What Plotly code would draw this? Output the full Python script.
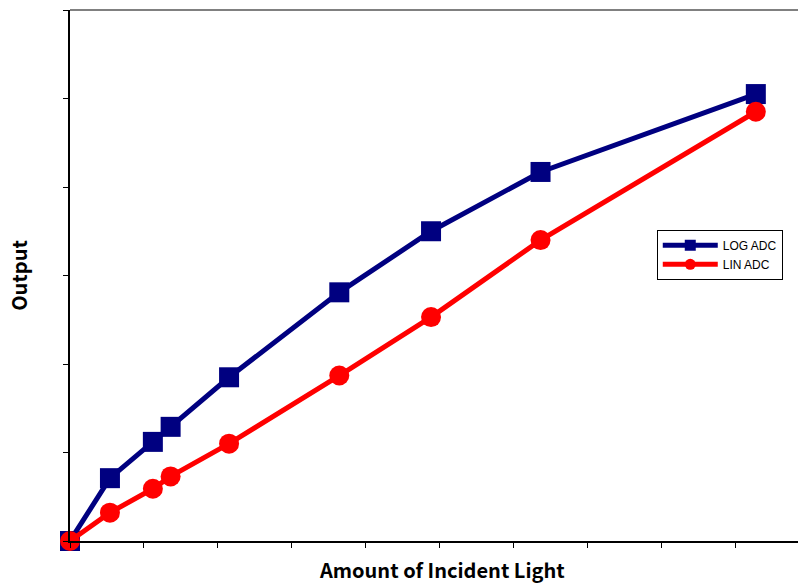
import plotly.graph_objects as go

light = [0, 5.4, 11.2, 13.6, 21.5, 36.4, 48.8, 63.6, 92.7]
log_adc = [0, 71, 112, 129, 185, 281, 350, 417, 505]
lin_adc = [0, 32, 59, 73, 110, 187, 253, 340, 485]

NAVY = "#000080"
RED = "#FF0000"

fig = go.Figure()
fig.add_trace(go.Scatter(x=light, y=log_adc, name="LOG ADC", mode="lines+markers",
                         showlegend=False, cliponaxis=False,
                         line=dict(color=NAVY, width=5),
                         marker=dict(symbol="square", size=20, color=NAVY)))
fig.add_trace(go.Scatter(x=light, y=lin_adc, name="LIN ADC", mode="lines+markers",
                         showlegend=False, cliponaxis=False,
                         line=dict(color=RED, width=5),
                         marker=dict(symbol="circle", size=20, color=RED)))
# legend entries (smaller legend symbols, as in the reference)
fig.add_trace(go.Scatter(x=[None], y=[None], name="LOG ADC", mode="lines+markers",
                         line=dict(color=NAVY, width=5),
                         marker=dict(symbol="square", size=11, color=NAVY)))
fig.add_trace(go.Scatter(x=[None], y=[None], name="LIN ADC", mode="lines+markers",
                         line=dict(color=RED, width=5),
                         marker=dict(symbol="circle", size=11, color=RED)))

fig.update_layout(
    width=798, height=585,
    margin=dict(l=70, r=0, t=10, b=44),
    paper_bgcolor="white", plot_bgcolor="white",
    showlegend=True,
    legend=dict(x=0.806, y=0.586, xanchor="left", yanchor="top",
                bordercolor="black", borderwidth=1, bgcolor="white",
                font=dict(family="Liberation Sans", size=12, color="black"),
                itemwidth=55, tracegroupgap=0),
    xaxis=dict(range=[0, 98.4], showgrid=False, zeroline=False,
               showline=True, linecolor="black", linewidth=2,
               ticks="outside", ticklen=5, tickcolor="black", tickwidth=1,
               dtick=10, showticklabels=False),
    yaxis=dict(range=[0, 600], showgrid=False, zeroline=False,
               showline=True, linecolor="black", linewidth=2,
               ticks="outside", ticklen=5, tickcolor="black", tickwidth=1,
               dtick=100, showticklabels=False,
               title=dict(text="<b>Output</b>", standoff=30,
                          font=dict(family="Noto Sans CJK JP", size=20, color="black"))),
)
fig.add_annotation(text="<b>Amount of Incident Light</b>", xref="paper", yref="paper",
                   x=0.511, y=-0.054, xanchor="center", yanchor="middle", showarrow=False,
                   font=dict(family="Noto Sans CJK JP", size=20, color="black"))
fig.add_shape(type="line", xref="paper", yref="paper", x0=0, x1=1, y0=1, y1=1,
              line=dict(color="#808080", width=2))

fig.write_html("out.html", config={"displayModeBar": False},
               post_script="document.body.style.margin='0';")
